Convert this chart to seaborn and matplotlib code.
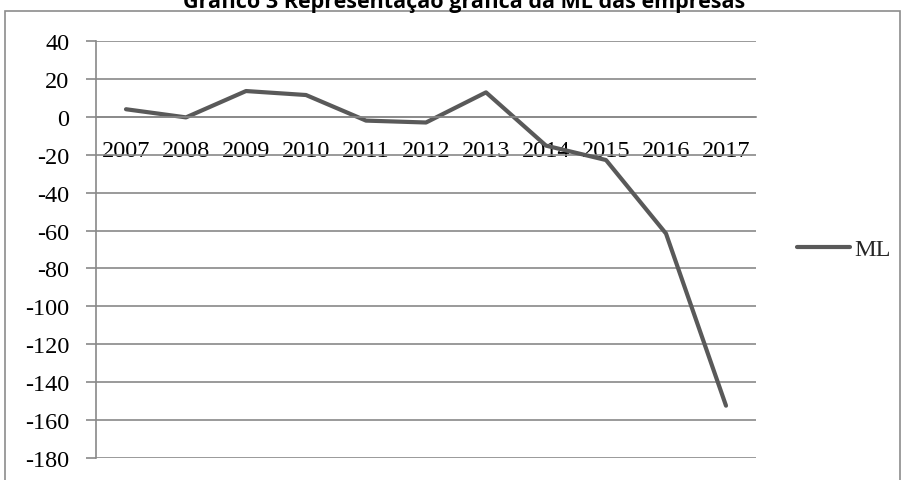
import matplotlib
matplotlib.use("Agg")
import matplotlib.pyplot as plt
import seaborn as sns
import pandas as pd
import numpy as np
from matplotlib.patches import Rectangle

years = ["2007", "2008", "2009", "2010", "2011", "2012", "2013", "2014", "2015", "2016", "2017"]
ml = [4.0, -0.3, 13.6, 11.5, -2.0, -3.0, 12.9, -15.2, -22.8, -61.6, -152.4]
yticks = [40, 20, 0, -20, -40, -60, -80, -100, -120, -140, -160, -180]
title = "Gráfico 3 Representação gráfica da ML das empresas"

sns.set_theme(style="white")
plt.rcParams['font.family'] = ['Liberation Serif', 'DejaVu Serif']

W, H = 906, 481
fig = plt.figure(figsize=(W / 100, H / 100), dpi=100)
ax = fig.add_axes([96 / W, 1 - 459 / H, (756 - 96) / W, (459 - 42) / H])

df = pd.DataFrame({"Ano": years, "ML": ml})
sns.lineplot(data=df, x="Ano", y="ML", ax=ax, color="#595959", linewidth=3,
             label="ML", sort=False)

grid_c = "#898989"
fs = 17.5
ax.set_ylim(-180, 40)
ax.set_xlim(-0.5, len(years) - 0.5)
ax.set_yticks(yticks)
ax.set_yticklabels([str(v) for v in yticks])
ax.yaxis.grid(True, color=grid_c, linewidth=1.2)
ax.xaxis.grid(False)
ax.set_xlabel("")
ax.set_ylabel("")

for s in ["top", "right"]:
    ax.spines[s].set_visible(False)
ax.spines["left"].set_color(grid_c)
ax.spines["left"].set_linewidth(1.2)
ax.spines["bottom"].set_position(("data", 0))
ax.spines["bottom"].set_color(grid_c)
ax.spines["bottom"].set_linewidth(1.2)

ax.set_xticks(range(len(years)))
ax.set_xticklabels(years)
ax.set_xticks(np.arange(-0.5, len(years), 1.0), minor=True)
ax.tick_params(axis="x", which="major", length=0, pad=17, labelsize=fs, labelcolor="black")
ax.tick_params(axis="x", which="minor", length=5, width=1.2, color=grid_c, direction="out")
ax.tick_params(axis="y", which="major", length=7, width=1.2, color=grid_c, pad=12,
               labelsize=fs, labelcolor="black", left=True)

leg = ax.legend(loc="center left", bbox_to_anchor=(797 / W, 1 - 250 / H),
                bbox_transform=fig.transFigure, frameon=False, fontsize=fs,
                handlelength=2.2, handletextpad=0.15, borderaxespad=0, borderpad=0)

fig.patches.append(Rectangle((5 / W, -0.1), (900 - 5) / W, 1.1 - 12 / H,
                             transform=fig.transFigure, fill=False,
                             edgecolor="#8c8c8c", linewidth=1.2, figure=fig))

t = fig.text(464 / W, 1 - 8 / H, title, ha="center", va="baseline", fontsize=13,
             family=["Open Sans", "DejaVu Sans"], fontweight="bold", color="black")
fig.canvas.draw()
w = t.get_window_extent().width
t.set_fontsize(13 * 558 / w)

fig.savefig("out.png", dpi=100)
